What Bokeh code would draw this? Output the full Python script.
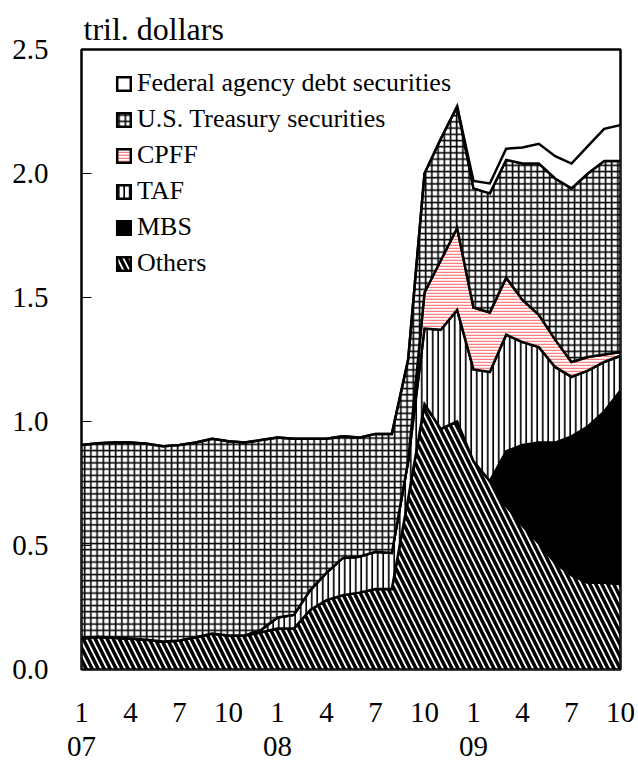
import numpy as np
from bokeh.plotting import figure
from bokeh.models import (Range1d, FixedTicker, PrintfTickFormatter, LinearAxis,
                          Legend, LegendItem)
from bokeh.embed import file_html
from bokeh.resources import INLINE

# month index 0 = Jan 2007 ... 33 = Oct 2009
months = list(range(34))

others = [0.125, 0.132, 0.128, 0.125, 0.12, 0.113, 0.117, 0.13, 0.145, 0.137,
          0.137, 0.15, 0.165, 0.165, 0.24, 0.28, 0.30, 0.31, 0.325, 0.325,
          0.69, 1.07, 0.97, 1.00, 0.84, 0.76, 0.66, 0.58, 0.51, 0.43,
          0.38, 0.35, 0.35, 0.345]
mbs = [0.0] * 26 + [0.22, 0.325, 0.405, 0.485, 0.56, 0.63, 0.69, 0.78]
taf = [0.0] * 11 + [0.01, 0.045, 0.055, 0.08, 0.11, 0.15, 0.145, 0.15, 0.145,
                    0.15, 0.305, 0.40, 0.45, 0.37, 0.44, 0.47, 0.415, 0.385,
                    0.305, 0.24, 0.225, 0.20, 0.14]
cpff = [0.0] * 21 + [0.145, 0.28, 0.33, 0.25, 0.24, 0.23, 0.17, 0.13, 0.11,
                     0.06, 0.055, 0.03, 0.015]
treasury = [0.78, 0.78, 0.787, 0.79, 0.79, 0.787, 0.788, 0.785, 0.785, 0.783,
            0.778, 0.765, 0.725, 0.71, 0.61, 0.54, 0.49, 0.48, 0.475, 0.48,
            0.41, 0.48, 0.49, 0.49, 0.48, 0.48, 0.475, 0.55, 0.61, 0.65,
            0.70, 0.74, 0.78, 0.77]
agency = [0.0] * 24 + [0.03, 0.04, 0.045, 0.065, 0.08, 0.09, 0.10, 0.11, 0.13, 0.145]

month_ticks = [0, 3, 6, 9, 12, 15, 18, 21, 24, 27, 30, 33]
month_labels = ["1", "4", "7", "10", "1", "4", "7", "10", "1", "4", "7", "10"]
year_ticks = [0, 12, 24]
year_labels = ["07", "08", "09"]
y_ticks = [0, 0.5, 1.0, 1.5, 2.0, 2.5]

FONT = "Liberation Serif"

p = figure(frame_width=539, frame_height=620,
           x_range=Range1d(0, 33), y_range=Range1d(0, 2.5),
           output_backend="svg", toolbar_location=None,
           min_border_left=81, min_border_right=17, min_border_top=49,
           min_border_bottom=96, title="tril. dollars")
p.background_fill_color = "white"
p.border_fill_color = "white"
p.xgrid.visible = False
p.ygrid.visible = False
p.outline_line_color = "black"
p.outline_line_width = 2.5
p.outline_line_alpha = 1.0

p.title.text_font = FONT
p.title.text_font_size = "32px"
p.title.text_font_style = "normal"
p.title.text_color = "black"
p.title.align = "left"
p.title.offset = 2
p.title.standoff = 5

layers = [
    ("Others", others, dict(fill_color="white", hatch_pattern="\\", hatch_color="black",
                            hatch_weight=3.5, hatch_scale=12)),
    ("MBS", mbs, dict(fill_color="black")),
    ("TAF", taf, dict(fill_color="white", hatch_pattern="|", hatch_color="black",
                      hatch_weight=1.7, hatch_scale=5.5)),
    ("CPFF", cpff, dict(fill_color="white", hatch_pattern="-", hatch_color="#ff8080",
                        hatch_weight=1.5, hatch_scale=3)),
    ("U.S. Treasury securities", treasury, dict(fill_color="white", hatch_pattern="+",
                                                hatch_color="black", hatch_weight=1.6,
                                                hatch_scale=6.2)),
    ("Federal agency debt securities", agency, dict(fill_color="white")),
]

base = np.zeros(len(months))
rends = {}
for name, vals, style in layers:
    top = base + np.array(vals)
    xs = list(months) + list(months[::-1])
    ys = list(top) + list(base[::-1])
    r = p.patch(xs, ys, line_color="black", line_width=2.5, line_join="miter", **style)
    rends[name] = r
    base = top

items = [LegendItem(label=name, renderers=[rends[name]]) for name, _, _ in layers[::-1]]
legend = Legend(items=items, location=(34, 391))
legend.label_text_font = FONT
legend.label_text_font_size = "26px"
legend.label_text_color = "black"
legend.glyph_width = 17
legend.glyph_height = 17
legend.label_height = 29
legend.label_standoff = 5
legend.spacing = 6
legend.padding = 0
legend.margin = 0
legend.background_fill_alpha = 0
legend.border_line_alpha = 0
p.add_layout(legend)

# y axis
ya = p.yaxis[0]
ya.ticker = FixedTicker(ticks=y_ticks)
ya.formatter = PrintfTickFormatter(format="%.1f")
ya.major_tick_in = 10
ya.major_tick_out = 0
ya.major_tick_line_color = "black"
ya.minor_tick_line_color = None
ya.axis_line_color = None
ya.major_label_standoff = 33
ya.major_label_text_font = FONT
ya.major_label_text_font_size = "29px"
ya.major_label_text_color = "black"

# x axis: months
xa = p.xaxis[0]
xa.ticker = FixedTicker(ticks=month_ticks)
xa.major_label_overrides = {t: l for t, l in zip(month_ticks, month_labels)}
xa.major_tick_line_color = None
xa.minor_tick_line_color = None
xa.axis_line_color = None
xa.major_label_standoff = 27
xa.major_label_text_font = FONT
xa.major_label_text_font_size = "29px"
xa.major_label_text_color = "black"

# x axis: years
yr = LinearAxis(ticker=FixedTicker(ticks=year_ticks),
                major_label_overrides={t: l for t, l in zip(year_ticks, year_labels)})
yr.major_tick_line_color = None
yr.minor_tick_line_color = None
yr.axis_line_color = None
yr.major_label_standoff = 6
yr.major_label_text_font = FONT
yr.major_label_text_font_size = "29px"
yr.major_label_text_color = "black"
p.add_layout(yr, "below")

open("out.html", "w").write(file_html(p, INLINE))
